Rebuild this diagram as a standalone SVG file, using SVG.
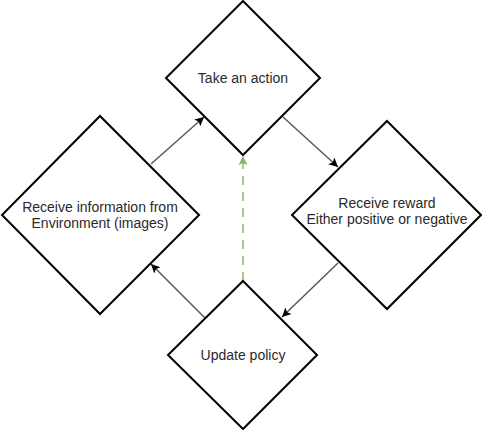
<svg xmlns="http://www.w3.org/2000/svg" width="482" height="430" viewBox="0 0 482 430">
<style>
.shape{fill:#fff;stroke:#000;stroke-width:2}
.lbl{font-family:"Liberation Sans",Arial,sans-serif;font-size:14px;fill:#2a2a2a;text-anchor:middle}
.edge{fill:none;stroke:#555;stroke-width:1.4}
.dash{fill:none;stroke:#82b366;stroke-width:1.4;stroke-dasharray:9 7}
</style>
<defs>
<marker id="arr" viewBox="-10 -6 11 12" refX="0" refY="0" markerWidth="11" markerHeight="12" markerUnits="userSpaceOnUse" orient="auto">
<path d="M0,0 L-9,-4.5 L-7,0 L-9,4.5 Z" fill="#000"/>
</marker>
<marker id="arrg" viewBox="-10 -6 11 12" refX="0" refY="0" markerWidth="11" markerHeight="12" markerUnits="userSpaceOnUse" orient="auto">
<path d="M0,0 L-9,-4.5 L-7,0 L-9,4.5 Z" fill="#82b366"/>
</marker>
</defs>
<rect width="482" height="430" fill="#fff"/>
<g id="edges">
<line class="edge" x1="151" y1="164" x2="204" y2="117" marker-end="url(#arr)"/>
<line class="edge" x1="283" y1="117" x2="338" y2="167" marker-end="url(#arr)"/>
<line class="edge" x1="338" y1="263" x2="282" y2="317" marker-end="url(#arr)"/>
<line class="edge" x1="205" y1="318" x2="151" y2="264" marker-end="url(#arr)"/>
<line class="dash" x1="243" y1="281" x2="243" y2="156" marker-end="url(#arrg)"/>
</g>
<g id="take-action">
<polygon class="shape" points="243,1 320,78 243,155 166,78"/>
<text class="lbl" x="243" y="82.5">Take an action</text>
</g>
<g id="receive-info">
<polygon class="shape" points="100,116 199,215 100,314 2,215"/>
<text class="lbl" x="100" y="212">Receive information from</text>
<text class="lbl" x="100" y="228">Environment (images)</text>
</g>
<g id="receive-reward">
<polygon class="shape" points="387,121 481,215 387,309 292,215"/>
<text class="lbl" x="387" y="208">Receive reward</text>
<text class="lbl" x="387" y="224">Either positive or negative</text>
</g>
<g id="update-policy">
<polygon class="shape" points="243,281 317,355 243,429 168,355"/>
<text class="lbl" x="243" y="360">Update policy</text>
</g>
</svg>
